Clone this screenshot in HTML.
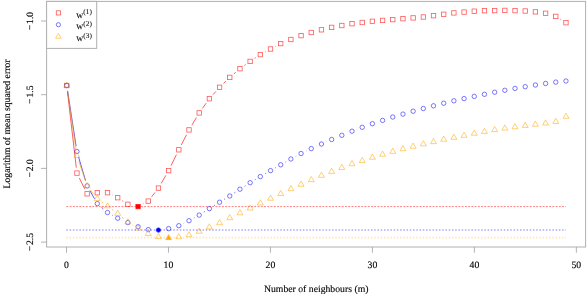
<!DOCTYPE html>
<html><head><meta charset="utf-8"><title>plot</title>
<style>
html,body{margin:0;padding:0;background:#fff;}
svg{display:block;}
text{font-family:"Liberation Serif",serif;font-size:9.73px;fill:#000;stroke:#000;stroke-width:0.15px;text-rendering:geometricPrecision;}
</style></head><body>
<svg width="587" height="294" viewBox="0 0 587 294">
<rect x="0" y="0" width="587" height="294" fill="#ffffff"/>
<g>
<line x1="67.39" y1="90.96" x2="76.30" y2="167.64" stroke="#ff0000" stroke-width="0.8" stroke-opacity="0.8"/>
<line x1="79.37" y1="178.03" x2="84.70" y2="188.87" stroke="#ff0000" stroke-width="0.8" stroke-opacity="0.8"/>
<line x1="112.44" y1="195.12" x2="112.75" y2="195.28" stroke="#ff0000" stroke-width="0.8" stroke-opacity="0.8"/>
<line x1="122.31" y1="200.69" x2="123.26" y2="201.31" stroke="#ff0000" stroke-width="0.8" stroke-opacity="0.8"/>
<line x1="142.91" y1="203.99" x2="143.41" y2="203.71" stroke="#ff0000" stroke-width="0.8" stroke-opacity="0.8"/>
<line x1="151.65" y1="196.77" x2="155.05" y2="192.43" stroke="#ff0000" stroke-width="0.8" stroke-opacity="0.8"/>
<line x1="161.21" y1="183.35" x2="165.86" y2="175.35" stroke="#ff0000" stroke-width="0.8" stroke-opacity="0.8"/>
<line x1="171.05" y1="165.66" x2="176.40" y2="154.74" stroke="#ff0000" stroke-width="0.8" stroke-opacity="0.8"/>
<line x1="181.32" y1="144.90" x2="186.50" y2="134.80" stroke="#ff0000" stroke-width="0.8" stroke-opacity="0.8"/>
<line x1="191.83" y1="125.18" x2="196.37" y2="117.62" stroke="#ff0000" stroke-width="0.8" stroke-opacity="0.8"/>
<line x1="202.40" y1="108.43" x2="206.18" y2="103.17" stroke="#ff0000" stroke-width="0.8" stroke-opacity="0.8"/>
<line x1="213.05" y1="94.60" x2="215.91" y2="91.40" stroke="#ff0000" stroke-width="0.8" stroke-opacity="0.8"/>
<line x1="223.51" y1="83.47" x2="225.81" y2="81.23" stroke="#ff0000" stroke-width="0.8" stroke-opacity="0.8"/>
<line x1="233.94" y1="73.83" x2="235.76" y2="72.27" stroke="#ff0000" stroke-width="0.8" stroke-opacity="0.8"/>
<line x1="244.42" y1="65.50" x2="245.66" y2="64.60" stroke="#ff0000" stroke-width="0.8" stroke-opacity="0.8"/>
<line x1="254.71" y1="58.35" x2="255.75" y2="57.65" stroke="#ff0000" stroke-width="0.8" stroke-opacity="0.8"/>
<line x1="265.14" y1="51.95" x2="265.69" y2="51.65" stroke="#ff0000" stroke-width="0.8" stroke-opacity="0.8"/>
<line x1="275.37" y1="46.42" x2="275.84" y2="46.18" stroke="#ff0000" stroke-width="0.8" stroke-opacity="0.8"/>
<line x1="560.45" y1="19.29" x2="561.28" y2="19.81" stroke="#ff0000" stroke-width="0.8" stroke-opacity="0.8"/>
<rect x="64.55" y="83.30" width="4.40" height="4.40" fill="none" stroke="#ff0000" stroke-width="0.8" stroke-opacity="0.66"/>
<rect x="74.74" y="170.90" width="4.40" height="4.40" fill="none" stroke="#ff0000" stroke-width="0.8" stroke-opacity="0.66"/>
<rect x="84.93" y="191.60" width="4.40" height="4.40" fill="none" stroke="#ff0000" stroke-width="0.8" stroke-opacity="0.66"/>
<rect x="95.11" y="190.50" width="4.40" height="4.40" fill="none" stroke="#ff0000" stroke-width="0.8" stroke-opacity="0.66"/>
<rect x="105.30" y="190.50" width="4.40" height="4.40" fill="none" stroke="#ff0000" stroke-width="0.8" stroke-opacity="0.66"/>
<rect x="115.49" y="195.50" width="4.40" height="4.40" fill="none" stroke="#ff0000" stroke-width="0.8" stroke-opacity="0.66"/>
<rect x="125.68" y="202.10" width="4.40" height="4.40" fill="none" stroke="#ff0000" stroke-width="0.8" stroke-opacity="0.66"/>
<rect x="135.87" y="204.40" width="4.40" height="4.40" fill="none" stroke="#ff0000" stroke-width="0.8" stroke-opacity="0.66"/>
<rect x="146.05" y="198.90" width="4.40" height="4.40" fill="none" stroke="#ff0000" stroke-width="0.8" stroke-opacity="0.66"/>
<rect x="156.24" y="185.90" width="4.40" height="4.40" fill="none" stroke="#ff0000" stroke-width="0.8" stroke-opacity="0.66"/>
<rect x="166.43" y="168.40" width="4.40" height="4.40" fill="none" stroke="#ff0000" stroke-width="0.8" stroke-opacity="0.66"/>
<rect x="176.62" y="147.60" width="4.40" height="4.40" fill="none" stroke="#ff0000" stroke-width="0.8" stroke-opacity="0.66"/>
<rect x="186.81" y="127.70" width="4.40" height="4.40" fill="none" stroke="#ff0000" stroke-width="0.8" stroke-opacity="0.66"/>
<rect x="196.99" y="110.70" width="4.40" height="4.40" fill="none" stroke="#ff0000" stroke-width="0.8" stroke-opacity="0.66"/>
<rect x="207.18" y="96.50" width="4.40" height="4.40" fill="none" stroke="#ff0000" stroke-width="0.8" stroke-opacity="0.66"/>
<rect x="217.37" y="85.10" width="4.40" height="4.40" fill="none" stroke="#ff0000" stroke-width="0.8" stroke-opacity="0.66"/>
<rect x="227.56" y="75.20" width="4.40" height="4.40" fill="none" stroke="#ff0000" stroke-width="0.8" stroke-opacity="0.66"/>
<rect x="237.75" y="66.50" width="4.40" height="4.40" fill="none" stroke="#ff0000" stroke-width="0.8" stroke-opacity="0.66"/>
<rect x="247.93" y="59.20" width="4.40" height="4.40" fill="none" stroke="#ff0000" stroke-width="0.8" stroke-opacity="0.66"/>
<rect x="258.12" y="52.40" width="4.40" height="4.40" fill="none" stroke="#ff0000" stroke-width="0.8" stroke-opacity="0.66"/>
<rect x="268.31" y="46.80" width="4.40" height="4.40" fill="none" stroke="#ff0000" stroke-width="0.8" stroke-opacity="0.66"/>
<rect x="278.50" y="41.40" width="4.40" height="4.40" fill="none" stroke="#ff0000" stroke-width="0.8" stroke-opacity="0.66"/>
<rect x="288.69" y="37.30" width="4.40" height="4.40" fill="none" stroke="#ff0000" stroke-width="0.8" stroke-opacity="0.66"/>
<rect x="298.87" y="33.40" width="4.40" height="4.40" fill="none" stroke="#ff0000" stroke-width="0.8" stroke-opacity="0.66"/>
<rect x="309.06" y="30.30" width="4.40" height="4.40" fill="none" stroke="#ff0000" stroke-width="0.8" stroke-opacity="0.66"/>
<rect x="319.25" y="27.60" width="4.40" height="4.40" fill="none" stroke="#ff0000" stroke-width="0.8" stroke-opacity="0.66"/>
<rect x="329.44" y="25.20" width="4.40" height="4.40" fill="none" stroke="#ff0000" stroke-width="0.8" stroke-opacity="0.66"/>
<rect x="339.63" y="23.30" width="4.40" height="4.40" fill="none" stroke="#ff0000" stroke-width="0.8" stroke-opacity="0.66"/>
<rect x="349.81" y="21.50" width="4.40" height="4.40" fill="none" stroke="#ff0000" stroke-width="0.8" stroke-opacity="0.66"/>
<rect x="360.00" y="20.30" width="4.40" height="4.40" fill="none" stroke="#ff0000" stroke-width="0.8" stroke-opacity="0.66"/>
<rect x="370.19" y="19.10" width="4.40" height="4.40" fill="none" stroke="#ff0000" stroke-width="0.8" stroke-opacity="0.66"/>
<rect x="380.38" y="18.20" width="4.40" height="4.40" fill="none" stroke="#ff0000" stroke-width="0.8" stroke-opacity="0.66"/>
<rect x="390.57" y="17.40" width="4.40" height="4.40" fill="none" stroke="#ff0000" stroke-width="0.8" stroke-opacity="0.66"/>
<rect x="400.75" y="16.50" width="4.40" height="4.40" fill="none" stroke="#ff0000" stroke-width="0.8" stroke-opacity="0.66"/>
<rect x="410.94" y="15.70" width="4.40" height="4.40" fill="none" stroke="#ff0000" stroke-width="0.8" stroke-opacity="0.66"/>
<rect x="421.13" y="14.80" width="4.40" height="4.40" fill="none" stroke="#ff0000" stroke-width="0.8" stroke-opacity="0.66"/>
<rect x="431.32" y="13.50" width="4.40" height="4.40" fill="none" stroke="#ff0000" stroke-width="0.8" stroke-opacity="0.66"/>
<rect x="441.51" y="12.10" width="4.40" height="4.40" fill="none" stroke="#ff0000" stroke-width="0.8" stroke-opacity="0.66"/>
<rect x="451.69" y="10.70" width="4.40" height="4.40" fill="none" stroke="#ff0000" stroke-width="0.8" stroke-opacity="0.66"/>
<rect x="461.88" y="9.90" width="4.40" height="4.40" fill="none" stroke="#ff0000" stroke-width="0.8" stroke-opacity="0.66"/>
<rect x="472.07" y="9.00" width="4.40" height="4.40" fill="none" stroke="#ff0000" stroke-width="0.8" stroke-opacity="0.66"/>
<rect x="482.26" y="8.50" width="4.40" height="4.40" fill="none" stroke="#ff0000" stroke-width="0.8" stroke-opacity="0.66"/>
<rect x="492.45" y="8.40" width="4.40" height="4.40" fill="none" stroke="#ff0000" stroke-width="0.8" stroke-opacity="0.66"/>
<rect x="502.63" y="8.20" width="4.40" height="4.40" fill="none" stroke="#ff0000" stroke-width="0.8" stroke-opacity="0.66"/>
<rect x="512.82" y="8.40" width="4.40" height="4.40" fill="none" stroke="#ff0000" stroke-width="0.8" stroke-opacity="0.66"/>
<rect x="523.01" y="8.80" width="4.40" height="4.40" fill="none" stroke="#ff0000" stroke-width="0.8" stroke-opacity="0.66"/>
<rect x="533.20" y="9.65" width="4.40" height="4.40" fill="none" stroke="#ff0000" stroke-width="0.8" stroke-opacity="0.66"/>
<rect x="543.39" y="11.10" width="4.40" height="4.40" fill="none" stroke="#ff0000" stroke-width="0.8" stroke-opacity="0.66"/>
<rect x="553.57" y="14.20" width="4.40" height="4.40" fill="none" stroke="#ff0000" stroke-width="0.8" stroke-opacity="0.66"/>
<rect x="563.76" y="20.50" width="4.40" height="4.40" fill="none" stroke="#ff0000" stroke-width="0.8" stroke-opacity="0.66"/>
<line x1="67.59" y1="90.94" x2="76.10" y2="146.06" stroke="#0000ff" stroke-width="0.8" stroke-opacity="0.8"/>
<line x1="78.50" y1="156.77" x2="85.56" y2="180.63" stroke="#0000ff" stroke-width="0.8" stroke-opacity="0.8"/>
<line x1="89.87" y1="190.67" x2="94.57" y2="198.83" stroke="#0000ff" stroke-width="0.8" stroke-opacity="0.8"/>
<line x1="101.46" y1="207.22" x2="103.36" y2="208.88" stroke="#0000ff" stroke-width="0.8" stroke-opacity="0.8"/>
<line x1="112.30" y1="215.19" x2="112.89" y2="215.51" stroke="#0000ff" stroke-width="0.8" stroke-opacity="0.8"/>
<line x1="122.74" y1="220.38" x2="122.83" y2="220.42" stroke="#0000ff" stroke-width="0.8" stroke-opacity="0.8"/>
<line x1="183.76" y1="223.28" x2="184.07" y2="223.12" stroke="#0000ff" stroke-width="0.8" stroke-opacity="0.8"/>
<line x1="193.83" y1="218.05" x2="194.37" y2="217.75" stroke="#0000ff" stroke-width="0.8" stroke-opacity="0.8"/>
<line x1="203.83" y1="212.14" x2="204.75" y2="211.56" stroke="#0000ff" stroke-width="0.8" stroke-opacity="0.8"/>
<line x1="214.04" y1="205.67" x2="214.91" y2="205.13" stroke="#0000ff" stroke-width="0.8" stroke-opacity="0.8"/>
<line x1="224.27" y1="199.34" x2="225.06" y2="198.86" stroke="#0000ff" stroke-width="0.8" stroke-opacity="0.8"/>
<line x1="234.33" y1="192.95" x2="235.37" y2="192.25" stroke="#0000ff" stroke-width="0.8" stroke-opacity="0.8"/>
<line x1="244.58" y1="186.24" x2="245.50" y2="185.66" stroke="#0000ff" stroke-width="0.8" stroke-opacity="0.8"/>
<line x1="254.85" y1="179.87" x2="255.60" y2="179.43" stroke="#0000ff" stroke-width="0.8" stroke-opacity="0.8"/>
<line x1="265.06" y1="173.81" x2="265.77" y2="173.39" stroke="#0000ff" stroke-width="0.8" stroke-opacity="0.8"/>
<line x1="275.29" y1="167.88" x2="275.92" y2="167.52" stroke="#0000ff" stroke-width="0.8" stroke-opacity="0.8"/>
<line x1="285.48" y1="162.08" x2="286.11" y2="161.72" stroke="#0000ff" stroke-width="0.8" stroke-opacity="0.8"/>
<line x1="295.73" y1="156.39" x2="296.23" y2="156.11" stroke="#0000ff" stroke-width="0.8" stroke-opacity="0.8"/>
<line x1="306.03" y1="151.12" x2="306.31" y2="150.98" stroke="#0000ff" stroke-width="0.8" stroke-opacity="0.8"/>
<line x1="316.27" y1="146.34" x2="316.44" y2="146.26" stroke="#0000ff" stroke-width="0.8" stroke-opacity="0.8"/>
<line x1="326.48" y1="141.78" x2="326.61" y2="141.72" stroke="#0000ff" stroke-width="0.8" stroke-opacity="0.8"/>
<line x1="336.72" y1="137.40" x2="336.74" y2="137.40" stroke="#0000ff" stroke-width="0.8" stroke-opacity="0.8"/>
<circle cx="66.75" cy="85.50" r="2.2" fill="none" stroke="#0000ff" stroke-width="0.8" stroke-opacity="0.66"/>
<circle cx="76.94" cy="151.50" r="2.2" fill="none" stroke="#0000ff" stroke-width="0.8" stroke-opacity="0.66"/>
<circle cx="87.13" cy="185.90" r="2.2" fill="none" stroke="#0000ff" stroke-width="0.8" stroke-opacity="0.66"/>
<circle cx="97.31" cy="203.60" r="2.2" fill="none" stroke="#0000ff" stroke-width="0.8" stroke-opacity="0.66"/>
<circle cx="107.50" cy="212.50" r="2.2" fill="none" stroke="#0000ff" stroke-width="0.8" stroke-opacity="0.66"/>
<circle cx="117.69" cy="218.20" r="2.2" fill="none" stroke="#0000ff" stroke-width="0.8" stroke-opacity="0.66"/>
<circle cx="127.88" cy="222.60" r="2.2" fill="none" stroke="#0000ff" stroke-width="0.8" stroke-opacity="0.66"/>
<circle cx="138.07" cy="226.70" r="2.2" fill="none" stroke="#0000ff" stroke-width="0.8" stroke-opacity="0.66"/>
<circle cx="148.25" cy="229.60" r="2.2" fill="none" stroke="#0000ff" stroke-width="0.8" stroke-opacity="0.66"/>
<circle cx="158.44" cy="230.10" r="2.2" fill="none" stroke="#0000ff" stroke-width="0.8" stroke-opacity="0.66"/>
<circle cx="168.63" cy="228.60" r="2.2" fill="none" stroke="#0000ff" stroke-width="0.8" stroke-opacity="0.66"/>
<circle cx="178.82" cy="225.70" r="2.2" fill="none" stroke="#0000ff" stroke-width="0.8" stroke-opacity="0.66"/>
<circle cx="189.01" cy="220.70" r="2.2" fill="none" stroke="#0000ff" stroke-width="0.8" stroke-opacity="0.66"/>
<circle cx="199.19" cy="215.10" r="2.2" fill="none" stroke="#0000ff" stroke-width="0.8" stroke-opacity="0.66"/>
<circle cx="209.38" cy="208.60" r="2.2" fill="none" stroke="#0000ff" stroke-width="0.8" stroke-opacity="0.66"/>
<circle cx="219.57" cy="202.20" r="2.2" fill="none" stroke="#0000ff" stroke-width="0.8" stroke-opacity="0.66"/>
<circle cx="229.76" cy="196.00" r="2.2" fill="none" stroke="#0000ff" stroke-width="0.8" stroke-opacity="0.66"/>
<circle cx="239.95" cy="189.20" r="2.2" fill="none" stroke="#0000ff" stroke-width="0.8" stroke-opacity="0.66"/>
<circle cx="250.13" cy="182.70" r="2.2" fill="none" stroke="#0000ff" stroke-width="0.8" stroke-opacity="0.66"/>
<circle cx="260.32" cy="176.60" r="2.2" fill="none" stroke="#0000ff" stroke-width="0.8" stroke-opacity="0.66"/>
<circle cx="270.51" cy="170.60" r="2.2" fill="none" stroke="#0000ff" stroke-width="0.8" stroke-opacity="0.66"/>
<circle cx="280.70" cy="164.80" r="2.2" fill="none" stroke="#0000ff" stroke-width="0.8" stroke-opacity="0.66"/>
<circle cx="290.89" cy="159.00" r="2.2" fill="none" stroke="#0000ff" stroke-width="0.8" stroke-opacity="0.66"/>
<circle cx="301.07" cy="153.50" r="2.2" fill="none" stroke="#0000ff" stroke-width="0.8" stroke-opacity="0.66"/>
<circle cx="311.26" cy="148.60" r="2.2" fill="none" stroke="#0000ff" stroke-width="0.8" stroke-opacity="0.66"/>
<circle cx="321.45" cy="144.00" r="2.2" fill="none" stroke="#0000ff" stroke-width="0.8" stroke-opacity="0.66"/>
<circle cx="331.64" cy="139.50" r="2.2" fill="none" stroke="#0000ff" stroke-width="0.8" stroke-opacity="0.66"/>
<circle cx="341.83" cy="135.30" r="2.2" fill="none" stroke="#0000ff" stroke-width="0.8" stroke-opacity="0.66"/>
<circle cx="352.01" cy="131.20" r="2.2" fill="none" stroke="#0000ff" stroke-width="0.8" stroke-opacity="0.66"/>
<circle cx="362.20" cy="127.30" r="2.2" fill="none" stroke="#0000ff" stroke-width="0.8" stroke-opacity="0.66"/>
<circle cx="372.39" cy="123.70" r="2.2" fill="none" stroke="#0000ff" stroke-width="0.8" stroke-opacity="0.66"/>
<circle cx="382.58" cy="120.40" r="2.2" fill="none" stroke="#0000ff" stroke-width="0.8" stroke-opacity="0.66"/>
<circle cx="392.77" cy="117.00" r="2.2" fill="none" stroke="#0000ff" stroke-width="0.8" stroke-opacity="0.66"/>
<circle cx="402.95" cy="114.10" r="2.2" fill="none" stroke="#0000ff" stroke-width="0.8" stroke-opacity="0.66"/>
<circle cx="413.14" cy="111.20" r="2.2" fill="none" stroke="#0000ff" stroke-width="0.8" stroke-opacity="0.66"/>
<circle cx="423.33" cy="108.50" r="2.2" fill="none" stroke="#0000ff" stroke-width="0.8" stroke-opacity="0.66"/>
<circle cx="433.52" cy="105.80" r="2.2" fill="none" stroke="#0000ff" stroke-width="0.8" stroke-opacity="0.66"/>
<circle cx="443.71" cy="103.20" r="2.2" fill="none" stroke="#0000ff" stroke-width="0.8" stroke-opacity="0.66"/>
<circle cx="453.89" cy="100.80" r="2.2" fill="none" stroke="#0000ff" stroke-width="0.8" stroke-opacity="0.66"/>
<circle cx="464.08" cy="98.60" r="2.2" fill="none" stroke="#0000ff" stroke-width="0.8" stroke-opacity="0.66"/>
<circle cx="474.27" cy="96.40" r="2.2" fill="none" stroke="#0000ff" stroke-width="0.8" stroke-opacity="0.66"/>
<circle cx="484.46" cy="94.30" r="2.2" fill="none" stroke="#0000ff" stroke-width="0.8" stroke-opacity="0.66"/>
<circle cx="494.65" cy="92.20" r="2.2" fill="none" stroke="#0000ff" stroke-width="0.8" stroke-opacity="0.66"/>
<circle cx="504.83" cy="90.30" r="2.2" fill="none" stroke="#0000ff" stroke-width="0.8" stroke-opacity="0.66"/>
<circle cx="515.02" cy="88.40" r="2.2" fill="none" stroke="#0000ff" stroke-width="0.8" stroke-opacity="0.66"/>
<circle cx="525.21" cy="86.70" r="2.2" fill="none" stroke="#0000ff" stroke-width="0.8" stroke-opacity="0.66"/>
<circle cx="535.40" cy="85.00" r="2.2" fill="none" stroke="#0000ff" stroke-width="0.8" stroke-opacity="0.66"/>
<circle cx="545.59" cy="83.50" r="2.2" fill="none" stroke="#0000ff" stroke-width="0.8" stroke-opacity="0.66"/>
<circle cx="555.77" cy="82.10" r="2.2" fill="none" stroke="#0000ff" stroke-width="0.8" stroke-opacity="0.66"/>
<circle cx="565.96" cy="81.00" r="2.2" fill="none" stroke="#0000ff" stroke-width="0.8" stroke-opacity="0.66"/>
<line x1="67.54" y1="90.94" x2="76.15" y2="150.36" stroke="#ffa500" stroke-width="0.8" stroke-opacity="0.8"/>
<line x1="78.70" y1="161.01" x2="85.36" y2="180.69" stroke="#ffa500" stroke-width="0.8" stroke-opacity="0.8"/>
<line x1="90.53" y1="190.22" x2="93.91" y2="194.48" stroke="#ffa500" stroke-width="0.8" stroke-opacity="0.8"/>
<line x1="101.76" y1="202.03" x2="103.05" y2="202.97" stroke="#ffa500" stroke-width="0.8" stroke-opacity="0.8"/>
<line x1="111.95" y1="209.43" x2="113.24" y2="210.37" stroke="#ffa500" stroke-width="0.8" stroke-opacity="0.8"/>
<line x1="121.91" y1="217.12" x2="123.65" y2="218.58" stroke="#ffa500" stroke-width="0.8" stroke-opacity="0.8"/>
<line x1="132.56" y1="224.99" x2="133.39" y2="225.51" stroke="#ffa500" stroke-width="0.8" stroke-opacity="0.8"/>
<line x1="142.93" y1="230.98" x2="143.39" y2="231.22" stroke="#ffa500" stroke-width="0.8" stroke-opacity="0.8"/>
<line x1="204.26" y1="229.36" x2="204.31" y2="229.34" stroke="#ffa500" stroke-width="0.8" stroke-opacity="0.8"/>
<line x1="214.47" y1="225.10" x2="214.49" y2="225.10" stroke="#ffa500" stroke-width="0.8" stroke-opacity="0.8"/>
<line x1="224.51" y1="220.58" x2="224.82" y2="220.42" stroke="#ffa500" stroke-width="0.8" stroke-opacity="0.8"/>
<line x1="234.71" y1="215.62" x2="234.99" y2="215.48" stroke="#ffa500" stroke-width="0.8" stroke-opacity="0.8"/>
<line x1="244.92" y1="210.76" x2="245.16" y2="210.64" stroke="#ffa500" stroke-width="0.8" stroke-opacity="0.8"/>
<line x1="255.05" y1="205.84" x2="255.40" y2="205.66" stroke="#ffa500" stroke-width="0.8" stroke-opacity="0.8"/>
<line x1="265.32" y1="200.90" x2="265.52" y2="200.80" stroke="#ffa500" stroke-width="0.8" stroke-opacity="0.8"/>
<line x1="275.51" y1="196.22" x2="275.69" y2="196.13" stroke="#ffa500" stroke-width="0.8" stroke-opacity="0.8"/>
<line x1="285.65" y1="191.47" x2="285.93" y2="191.33" stroke="#ffa500" stroke-width="0.8" stroke-opacity="0.8"/>
<line x1="295.94" y1="186.77" x2="296.02" y2="186.73" stroke="#ffa500" stroke-width="0.8" stroke-opacity="0.8"/>
<line x1="306.09" y1="182.29" x2="306.25" y2="182.21" stroke="#ffa500" stroke-width="0.8" stroke-opacity="0.8"/>
<line x1="316.32" y1="177.79" x2="316.39" y2="177.76" stroke="#ffa500" stroke-width="0.8" stroke-opacity="0.8"/>
<line x1="560.69" y1="119.24" x2="561.04" y2="119.06" stroke="#ffa500" stroke-width="0.8" stroke-opacity="0.8"/>
<polygon points="66.75,82.05 69.74,87.22 63.76,87.22" fill="none" stroke="#ffa500" stroke-width="0.8" stroke-opacity="0.66"/>
<polygon points="76.94,152.35 79.93,157.53 73.95,157.53" fill="none" stroke="#ffa500" stroke-width="0.8" stroke-opacity="0.66"/>
<polygon points="87.13,182.45 90.11,187.62 84.14,187.62" fill="none" stroke="#ffa500" stroke-width="0.8" stroke-opacity="0.66"/>
<polygon points="97.31,195.35 100.30,200.53 94.33,200.53" fill="none" stroke="#ffa500" stroke-width="0.8" stroke-opacity="0.66"/>
<polygon points="107.50,202.75 110.49,207.92 104.51,207.92" fill="none" stroke="#ffa500" stroke-width="0.8" stroke-opacity="0.66"/>
<polygon points="117.69,210.15 120.68,215.32 114.70,215.32" fill="none" stroke="#ffa500" stroke-width="0.8" stroke-opacity="0.66"/>
<polygon points="127.88,218.65 130.87,223.82 124.89,223.82" fill="none" stroke="#ffa500" stroke-width="0.8" stroke-opacity="0.66"/>
<polygon points="138.07,224.95 141.05,230.12 135.08,230.12" fill="none" stroke="#ffa500" stroke-width="0.8" stroke-opacity="0.66"/>
<polygon points="148.25,230.35 151.24,235.53 145.27,235.53" fill="none" stroke="#ffa500" stroke-width="0.8" stroke-opacity="0.66"/>
<polygon points="158.44,233.45 161.43,238.62 155.45,238.62" fill="none" stroke="#ffa500" stroke-width="0.8" stroke-opacity="0.66"/>
<polygon points="168.63,234.45 171.62,239.62 165.64,239.62" fill="none" stroke="#ffa500" stroke-width="0.8" stroke-opacity="0.66"/>
<polygon points="178.82,233.55 181.81,238.72 175.83,238.72" fill="none" stroke="#ffa500" stroke-width="0.8" stroke-opacity="0.66"/>
<polygon points="189.01,231.55 191.99,236.72 186.02,236.72" fill="none" stroke="#ffa500" stroke-width="0.8" stroke-opacity="0.66"/>
<polygon points="199.19,228.05 202.18,233.22 196.21,233.22" fill="none" stroke="#ffa500" stroke-width="0.8" stroke-opacity="0.66"/>
<polygon points="209.38,223.75 212.37,228.92 206.39,228.92" fill="none" stroke="#ffa500" stroke-width="0.8" stroke-opacity="0.66"/>
<polygon points="219.57,219.55 222.56,224.72 216.58,224.72" fill="none" stroke="#ffa500" stroke-width="0.8" stroke-opacity="0.66"/>
<polygon points="229.76,214.55 232.75,219.72 226.77,219.72" fill="none" stroke="#ffa500" stroke-width="0.8" stroke-opacity="0.66"/>
<polygon points="239.95,209.65 242.93,214.82 236.96,214.82" fill="none" stroke="#ffa500" stroke-width="0.8" stroke-opacity="0.66"/>
<polygon points="250.13,204.85 253.12,210.03 247.15,210.03" fill="none" stroke="#ffa500" stroke-width="0.8" stroke-opacity="0.66"/>
<polygon points="260.32,199.75 263.31,204.92 257.33,204.92" fill="none" stroke="#ffa500" stroke-width="0.8" stroke-opacity="0.66"/>
<polygon points="270.51,195.05 273.50,200.22 267.52,200.22" fill="none" stroke="#ffa500" stroke-width="0.8" stroke-opacity="0.66"/>
<polygon points="280.70,190.40 283.69,195.57 277.71,195.57" fill="none" stroke="#ffa500" stroke-width="0.8" stroke-opacity="0.66"/>
<polygon points="290.89,185.50 293.87,190.67 287.90,190.67" fill="none" stroke="#ffa500" stroke-width="0.8" stroke-opacity="0.66"/>
<polygon points="301.07,181.10 304.06,186.28 298.09,186.28" fill="none" stroke="#ffa500" stroke-width="0.8" stroke-opacity="0.66"/>
<polygon points="311.26,176.50 314.25,181.67 308.27,181.67" fill="none" stroke="#ffa500" stroke-width="0.8" stroke-opacity="0.66"/>
<polygon points="321.45,172.15 324.44,177.32 318.46,177.32" fill="none" stroke="#ffa500" stroke-width="0.8" stroke-opacity="0.66"/>
<polygon points="331.64,168.25 334.63,173.42 328.65,173.42" fill="none" stroke="#ffa500" stroke-width="0.8" stroke-opacity="0.66"/>
<polygon points="341.83,164.35 344.81,169.53 338.84,169.53" fill="none" stroke="#ffa500" stroke-width="0.8" stroke-opacity="0.66"/>
<polygon points="352.01,160.55 355.00,165.72 349.03,165.72" fill="none" stroke="#ffa500" stroke-width="0.8" stroke-opacity="0.66"/>
<polygon points="362.20,157.35 365.19,162.53 359.21,162.53" fill="none" stroke="#ffa500" stroke-width="0.8" stroke-opacity="0.66"/>
<polygon points="372.39,154.05 375.38,159.22 369.40,159.22" fill="none" stroke="#ffa500" stroke-width="0.8" stroke-opacity="0.66"/>
<polygon points="382.58,151.05 385.57,156.22 379.59,156.22" fill="none" stroke="#ffa500" stroke-width="0.8" stroke-opacity="0.66"/>
<polygon points="392.77,148.15 395.75,153.32 389.78,153.32" fill="none" stroke="#ffa500" stroke-width="0.8" stroke-opacity="0.66"/>
<polygon points="402.95,145.55 405.94,150.72 399.97,150.72" fill="none" stroke="#ffa500" stroke-width="0.8" stroke-opacity="0.66"/>
<polygon points="413.14,143.05 416.13,148.22 410.15,148.22" fill="none" stroke="#ffa500" stroke-width="0.8" stroke-opacity="0.66"/>
<polygon points="423.33,140.65 426.32,145.82 420.34,145.82" fill="none" stroke="#ffa500" stroke-width="0.8" stroke-opacity="0.66"/>
<polygon points="433.52,138.45 436.51,143.62 430.53,143.62" fill="none" stroke="#ffa500" stroke-width="0.8" stroke-opacity="0.66"/>
<polygon points="443.71,136.05 446.69,141.22 440.72,141.22" fill="none" stroke="#ffa500" stroke-width="0.8" stroke-opacity="0.66"/>
<polygon points="453.89,134.15 456.88,139.32 450.91,139.32" fill="none" stroke="#ffa500" stroke-width="0.8" stroke-opacity="0.66"/>
<polygon points="464.08,132.15 467.07,137.32 461.09,137.32" fill="none" stroke="#ffa500" stroke-width="0.8" stroke-opacity="0.66"/>
<polygon points="474.27,130.05 477.26,135.22 471.28,135.22" fill="none" stroke="#ffa500" stroke-width="0.8" stroke-opacity="0.66"/>
<polygon points="484.46,128.25 487.45,133.42 481.47,133.42" fill="none" stroke="#ffa500" stroke-width="0.8" stroke-opacity="0.66"/>
<polygon points="494.65,126.45 497.63,131.62 491.66,131.62" fill="none" stroke="#ffa500" stroke-width="0.8" stroke-opacity="0.66"/>
<polygon points="504.83,124.95 507.82,130.12 501.85,130.12" fill="none" stroke="#ffa500" stroke-width="0.8" stroke-opacity="0.66"/>
<polygon points="515.02,123.55 518.01,128.72 512.03,128.72" fill="none" stroke="#ffa500" stroke-width="0.8" stroke-opacity="0.66"/>
<polygon points="525.21,122.25 528.20,127.42 522.22,127.42" fill="none" stroke="#ffa500" stroke-width="0.8" stroke-opacity="0.66"/>
<polygon points="535.40,121.05 538.39,126.22 532.41,126.22" fill="none" stroke="#ffa500" stroke-width="0.8" stroke-opacity="0.66"/>
<polygon points="545.59,119.85 548.57,125.02 542.60,125.02" fill="none" stroke="#ffa500" stroke-width="0.8" stroke-opacity="0.66"/>
<polygon points="555.77,118.25 558.76,123.42 552.79,123.42" fill="none" stroke="#ffa500" stroke-width="0.8" stroke-opacity="0.66"/>
<polygon points="565.96,113.15 568.95,118.32 562.97,118.32" fill="none" stroke="#ffa500" stroke-width="0.8" stroke-opacity="0.66"/>
<line x1="66.4" y1="206.6" x2="566.0" y2="206.6" stroke="#ff0000" stroke-opacity="0.65" stroke-width="0.8" stroke-dasharray="1.9 1.34"/>
<line x1="66.4" y1="230.0" x2="566.0" y2="230.0" stroke="#0000ff" stroke-opacity="0.26" stroke-width="2.0" stroke-dasharray="1.5 1.74"/>
<line x1="66.4" y1="237.6" x2="566.0" y2="237.6" stroke="#ffa500" stroke-opacity="0.3" stroke-width="1.6" stroke-dasharray="1.4 1.84"/>
<rect x="135.97" y="204.50" width="4.20" height="4.20" fill="#ff0000" stroke="#ff0000" stroke-width="0.3"/>
<circle cx="158.44" cy="230.10" r="2.0" fill="#0000ff" stroke="#0000ff" stroke-width="0.3"/>
<polygon points="168.63,235.30 171.05,239.50 166.21,239.50" fill="#ffa500" stroke="#ffa500" stroke-width="0.3"/>
</g>
<g>
<rect x="46.6" y="1.4" width="539.0" height="245.6" fill="none" stroke="#b0b0b0" stroke-width="1.0"/>
<line x1="66.5" y1="247.0" x2="66.5" y2="252.7" stroke="#a0a0a0" stroke-width="0.8"/>
<line x1="168.47" y1="247.0" x2="168.47" y2="252.7" stroke="#a0a0a0" stroke-width="0.8"/>
<line x1="270.44" y1="247.0" x2="270.44" y2="252.7" stroke="#a0a0a0" stroke-width="0.8"/>
<line x1="372.40999999999997" y1="247.0" x2="372.40999999999997" y2="252.7" stroke="#a0a0a0" stroke-width="0.8"/>
<line x1="474.38" y1="247.0" x2="474.38" y2="252.7" stroke="#a0a0a0" stroke-width="0.8"/>
<line x1="576.35" y1="247.0" x2="576.35" y2="252.7" stroke="#a0a0a0" stroke-width="0.8"/>
<line x1="41" y1="21" x2="46.6" y2="21" stroke="#a0a0a0" stroke-width="0.8"/>
<line x1="41" y1="94.7" x2="46.6" y2="94.7" stroke="#a0a0a0" stroke-width="0.8"/>
<line x1="41" y1="168.4" x2="46.6" y2="168.4" stroke="#a0a0a0" stroke-width="0.8"/>
<line x1="41" y1="242.1" x2="46.6" y2="242.1" stroke="#a0a0a0" stroke-width="0.8"/>
<rect x="46.6" y="1.4" width="50.1" height="47.0" fill="#fff" stroke="#b0b0b0" stroke-width="1.0"/>
<rect x="56.30" y="10.80" width="4.20" height="4.20" fill="none" stroke="#ff0000" stroke-width="0.8" stroke-opacity="0.66"/>
<circle cx="58.40" cy="24.70" r="2.1" fill="none" stroke="#0000ff" stroke-width="0.8" stroke-opacity="0.66"/>
<polygon points="58.40,33.40 61.21,38.27 55.59,38.27" fill="none" stroke="#ffa500" stroke-width="0.8" stroke-opacity="0.66"/>
</g>
<g opacity="0.99">
<text x="66.5" y="268.4" text-anchor="middle">0</text>
<text x="168.47" y="268.4" text-anchor="middle">10</text>
<text x="270.44" y="268.4" text-anchor="middle">20</text>
<text x="372.40999999999997" y="268.4" text-anchor="middle">30</text>
<text x="474.38" y="268.4" text-anchor="middle">40</text>
<text x="576.35" y="268.4" text-anchor="middle">50</text>
<text transform="translate(32.9,21) rotate(-90)" text-anchor="middle">−<tspan dx="0.8">1.0</tspan></text>
<text transform="translate(32.9,94.7) rotate(-90)" text-anchor="middle">−<tspan dx="0.8">1.5</tspan></text>
<text transform="translate(32.9,168.4) rotate(-90)" text-anchor="middle">−<tspan dx="0.8">2.0</tspan></text>
<text transform="translate(32.9,242.1) rotate(-90)" text-anchor="middle">−<tspan dx="0.8">2.5</tspan></text>
<text x="316.2" y="292.0" text-anchor="middle">Number of neighbours (m)</text>
<text transform="translate(9.8,124) rotate(-90)" text-anchor="middle">Logarithm of mean squared error</text>
<text x="76.3" y="17.50" style="font-size:9.73px;stroke-width:0.08px">w<tspan dy="-3.4" style="font-size:7.3px">(1)</tspan></text>
<text x="76.3" y="29.35" style="font-size:9.73px;stroke-width:0.08px">w<tspan dy="-3.4" style="font-size:7.3px">(2)</tspan></text>
<text x="76.3" y="41.20" style="font-size:9.73px;stroke-width:0.08px">w<tspan dy="-3.4" style="font-size:7.3px">(3)</tspan></text>
</g>
</svg>
</body></html>
